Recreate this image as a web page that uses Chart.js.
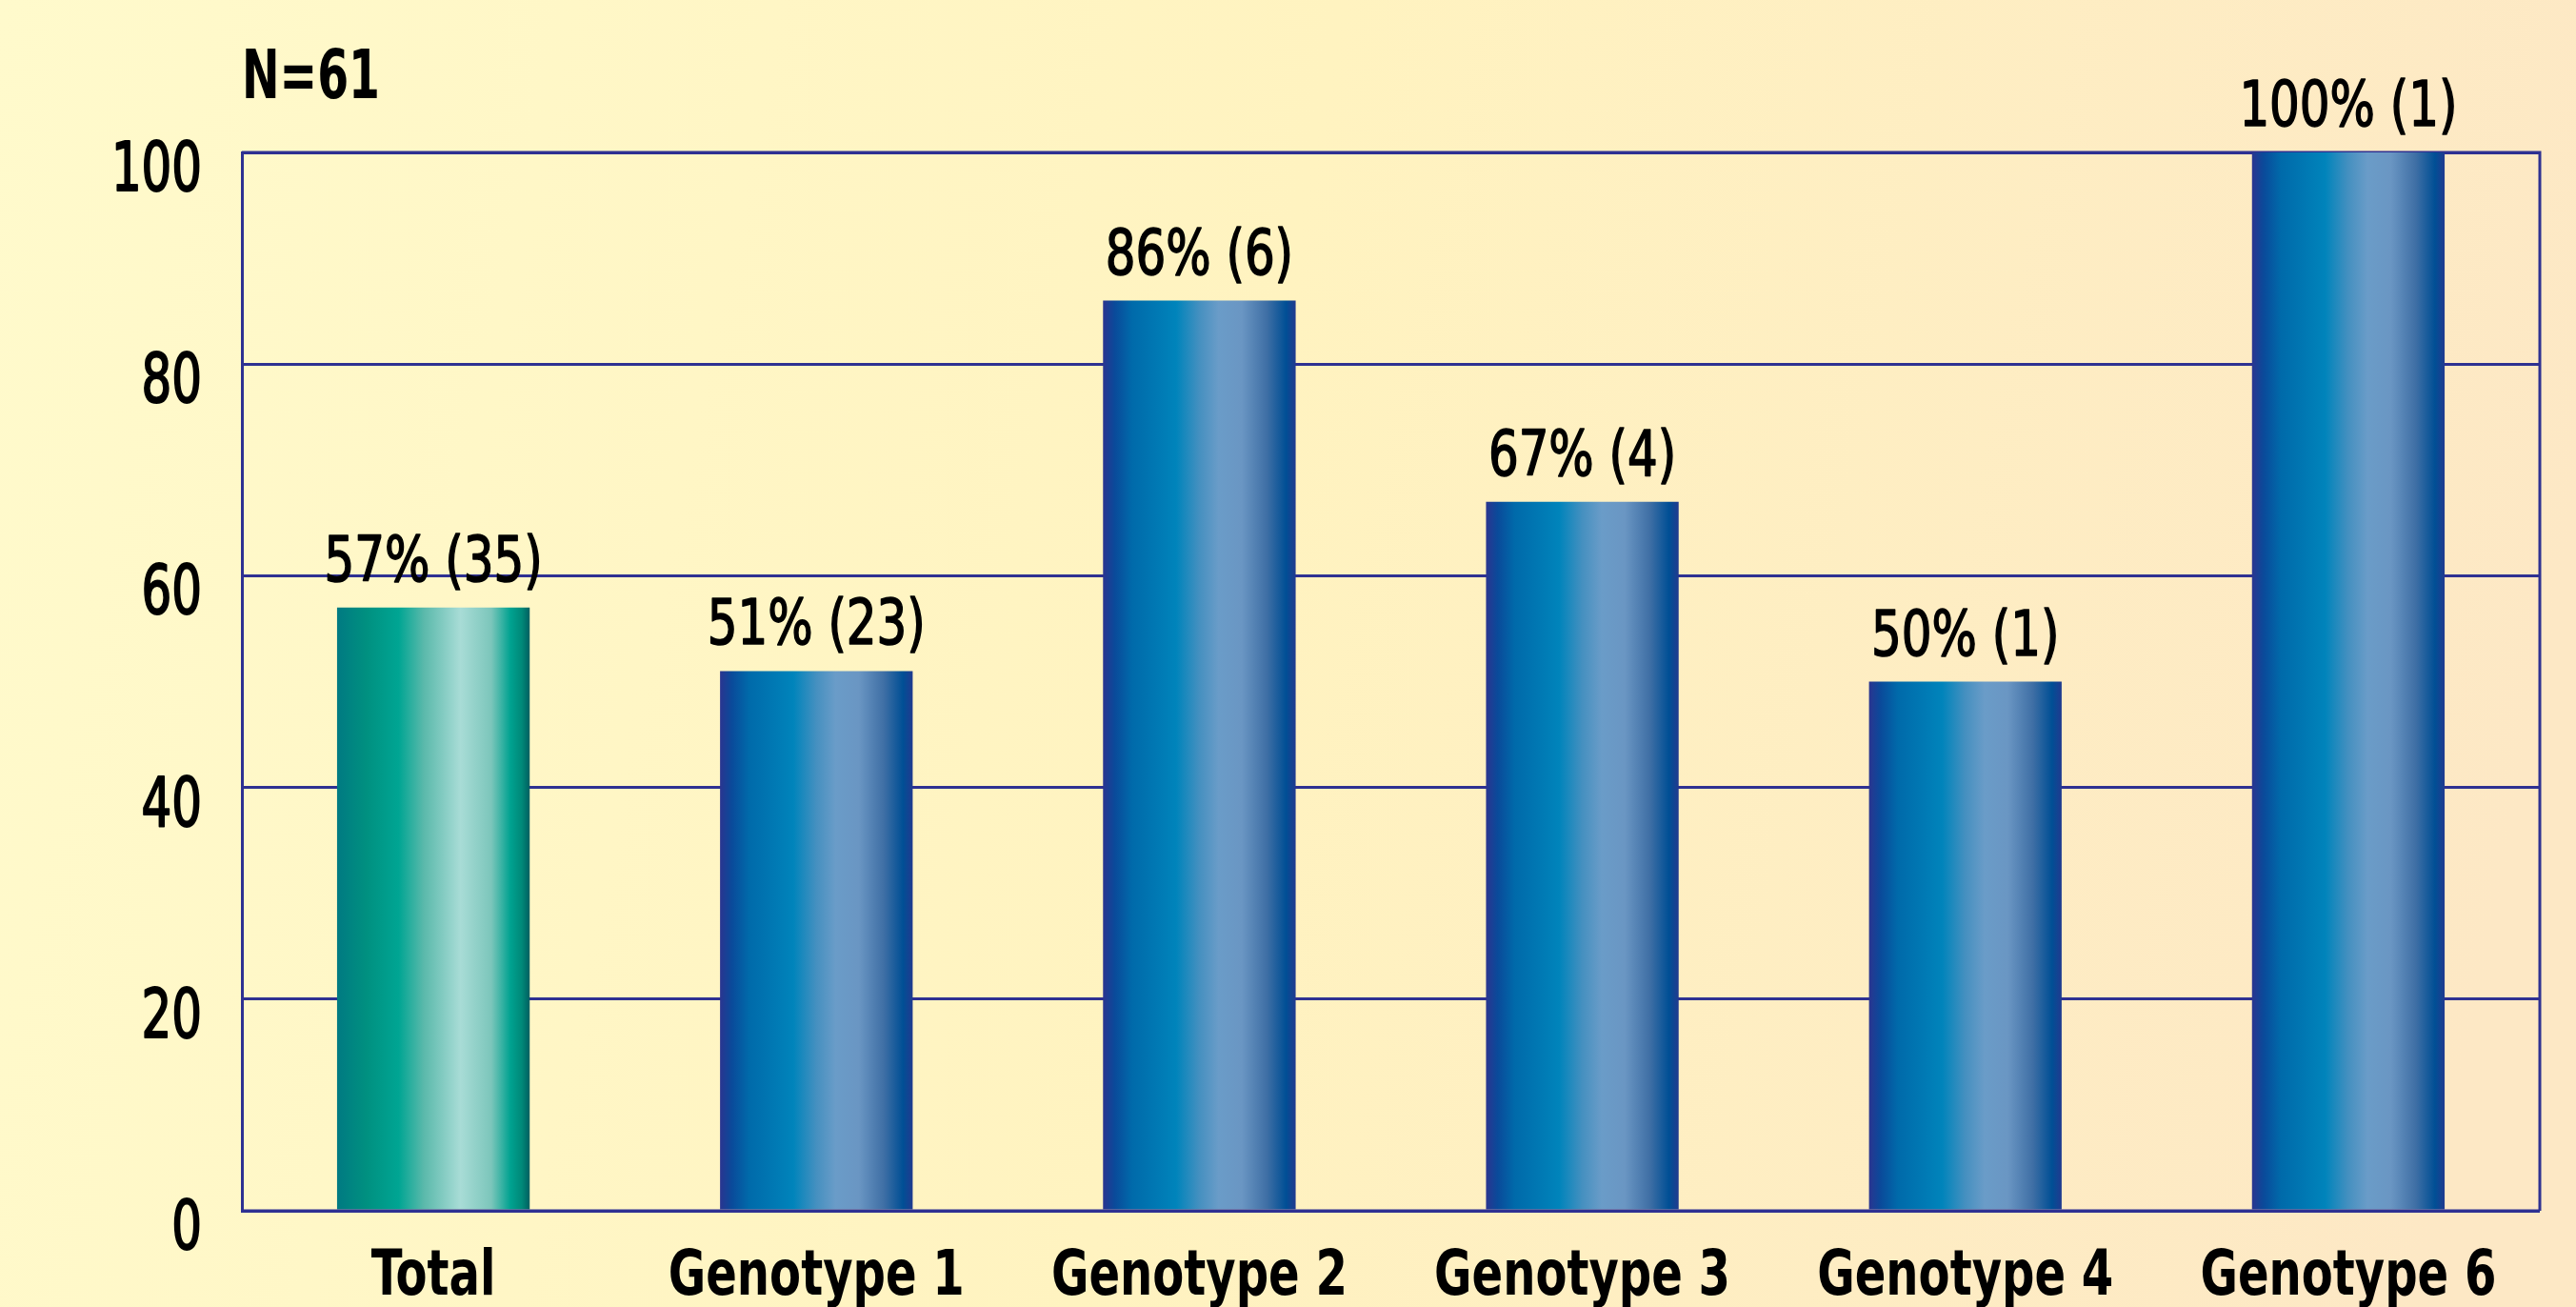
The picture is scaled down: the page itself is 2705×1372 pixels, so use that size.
<!DOCTYPE html>
<html>
<head>
<meta charset="utf-8">
<script src="https://cdn.jsdelivr.net/npm/chart.js@4.4.1/dist/chart.umd.min.js"></script>
<style>
  html, body { margin: 0; padding: 0; background: #fff6c8; overflow: hidden; }
  #wrap { width: 2705px; height: 1372px; position: relative; }
  canvas { display: block; }
</style>
</head>
<body>
<div id="wrap"><canvas id="c" width="2705" height="1372"></canvas></div>
<script>
// ---- data ----
const categories = ["Total", "Genotype 1", "Genotype 2", "Genotype 3", "Genotype 4", "Genotype 6"];
const percentValues = [57, 51, 86, 67, 50, 100];
const patientCounts = [35, 23, 6, 4, 1, 1];
const yTicks = [0, 20, 40, 60, 80, 100];
const sampleLabel = "N=61";

const FONT = '"Liberation Sans Narrow", "Arial Narrow", "DejaVu Sans Condensed", "DejaVu Sans", sans-serif';
const GRID = '#2e3192';

const tealStops = [
  [0, '#007a82'], [0.15, '#009080'], [0.32, '#00a593'], [0.45, '#5ab9ab'],
  [0.64, '#a8dcd6'], [0.8, '#7cc6bb'], [0.9, '#00a290'], [0.96, '#008878'], [1, '#005f60']
];
const blueStops = [
  [0, '#2a3590'], [0.06, '#0a4a9a'], [0.15, '#006aaa'], [0.38, '#0084bb'], [0.5, '#4590c0'],
  [0.6, '#6a9cc8'], [0.72, '#6a96c3'], [0.85, '#3f6fa5'], [0.95, '#004f95'], [1, '#213a8f']
];

function barFill(ctx) {
  const chart = ctx.chart;
  const xs = chart.scales.x;
  if (!xs || !chart.chartArea) return '#0084bb';
  const i = ctx.dataIndex;
  const center = xs.getPixelForValue(i);
  const catW = (xs.right - xs.left) / categories.length;
  const w = catW * 0.503;
  const g = chart.ctx.createLinearGradient(center - w / 2, 0, center + w / 2, 0);
  (i === 0 ? tealStops : blueStops).forEach(s => g.addColorStop(s[0], s[1]));
  return g;
}

// draw horizontally condensed text (the original uses a condensed Helvetica)
function condensedText(c, text, x, y, align, sx, strokeW) {
  c.save();
  c.translate(x, y);
  c.scale(sx, 1);
  c.textAlign = align;
  c.textBaseline = 'alphabetic';
  c.fillText(text, 0, 0);
  if (strokeW) {
    c.lineWidth = strokeW;
    c.strokeStyle = c.fillStyle;
    c.lineJoin = 'round';
    c.strokeText(text, 0, 0);
  }
  c.restore();
}

const bgPlugin = {
  id: 'bg',
  beforeDraw(chart) {
    const c = chart.ctx;
    const g = c.createLinearGradient(0, 0, chart.width, chart.height * 0.4);
    g.addColorStop(0, '#fffacc');
    g.addColorStop(0.5, '#fff3c0');
    g.addColorStop(1, '#fde8c5');
    c.save();
    c.fillStyle = g;
    c.fillRect(0, 0, chart.width, chart.height);
    c.restore();
  }
};

const framePlugin = {
  id: 'frame',
  beforeDatasetsDraw(chart) {
    const a = chart.chartArea;
    const c = chart.ctx;
    c.save();
    c.strokeStyle = GRID;
    c.lineWidth = 3;
    c.beginPath();
    c.moveTo(a.left, a.top);
    c.lineTo(a.right, a.top);
    c.lineTo(a.right, a.bottom);
    c.stroke();
    c.restore();
  },
  afterDatasetsDraw(chart) {
    const a = chart.chartArea;
    const c = chart.ctx;
    c.save();
    c.strokeStyle = GRID;
    c.lineWidth = 3;
    c.beginPath();
    c.moveTo(a.left, a.bottom);
    c.lineTo(a.right, a.bottom);
    c.stroke();
    c.restore();
  }
};

const labelPlugin = {
  id: 'labels',
  afterDraw(chart) {
    const c = chart.ctx;
    const xs = chart.scales.x;
    const ys = chart.scales.y;
    const meta = chart.getDatasetMeta(0);
    c.save();
    c.fillStyle = '#000';

    // y tick labels from the y scale
    c.font = '71px ' + FONT;
    ys.ticks.forEach(t => {
      condensedText(c, String(t.value), ys.right - 42, ys.getPixelForValue(t.value) + 40, 'right', 0.78, 2);
    });

    // x tick labels from the category scale
    c.font = 'bold 66px ' + FONT;
    xs.ticks.forEach((t, i) => {
      condensedText(c, xs.getLabelForValue(t.value), xs.getPixelForTick(i), xs.top + 88, 'center', 0.81, 0);
    });

    // value labels above bars
    c.font = '66px ' + FONT;
    meta.data.forEach((bar, i) => {
      condensedText(c, percentValues[i] + '% (' + patientCounts[i] + ')', bar.x, bar.y - 28, 'center', 0.84, 1.6);
    });

    // sample size
    c.font = 'bold 71px ' + FONT;
    condensedText(c, sampleLabel, chart.chartArea.left, 103, 'left', 0.74, 0);
    c.restore();
  }
};

new Chart(document.getElementById('c'), {
  type: 'bar',
  data: {
    labels: categories,
    datasets: [{
      data: percentValues,
      backgroundColor: barFill,
      borderWidth: 0,
      categoryPercentage: 1,
      barPercentage: 0.503
    }]
  },
  plugins: [bgPlugin, framePlugin, labelPlugin],
  options: {
    responsive: false,
    animation: false,
    devicePixelRatio: 1,
    layout: { padding: { top: 160, right: 38, left: 0, bottom: 0 } },
    plugins: { legend: { display: false }, tooltip: { enabled: false }, title: { display: false } },
    scales: {
      x: {
        grid: { display: false, drawTicks: false },
        border: { display: false },
        ticks: { display: false, autoSkip: false },
        afterFit(s) { s.height = 101; }
      },
      y: {
        min: 0, max: 100,
        afterBuildTicks(s) { s.ticks = yTicks.map(v => ({ value: v })); },
        grid: { color: GRID, lineWidth: 3, drawTicks: false },
        border: { display: true, color: GRID, width: 3 },
        ticks: { display: false },
        afterFit(s) { s.width = 254; }
      }
    }
  }
});
</script>
</body>
</html>
